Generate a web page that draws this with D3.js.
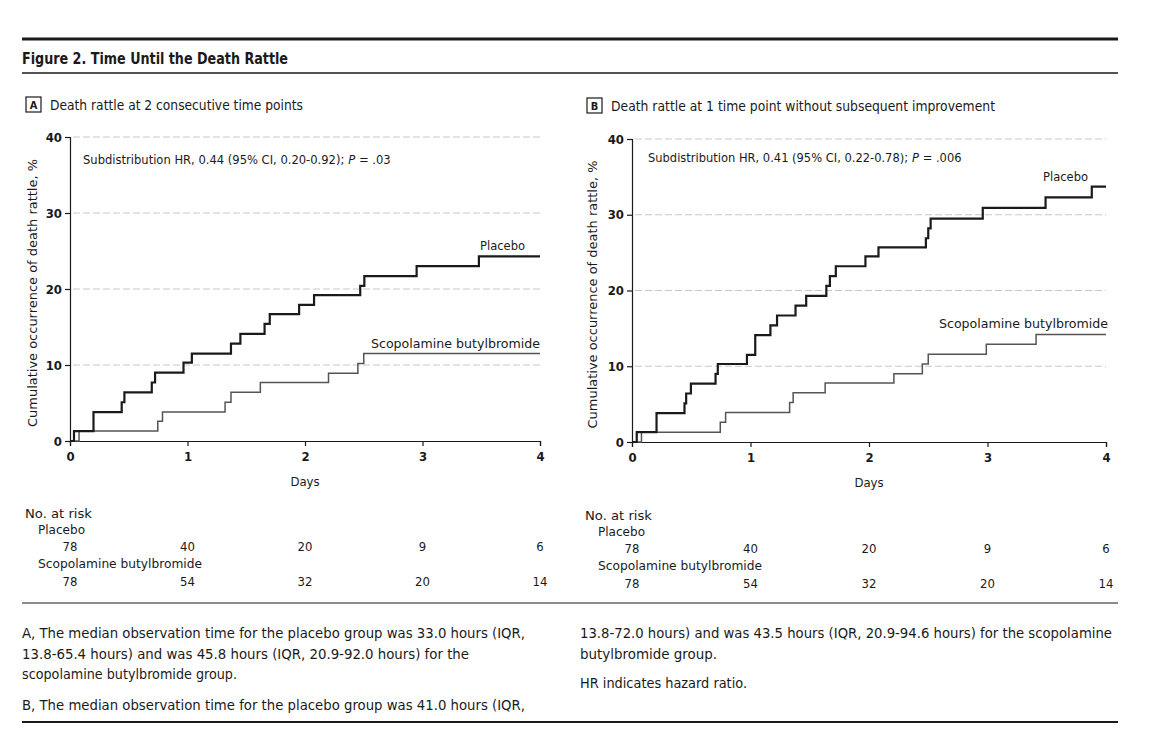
<!DOCTYPE html>
<html>
<head>
<meta charset="utf-8">
<script src="https://cdn.jsdelivr.net/npm/d3@7"></script>
<style>
  body { margin: 0; background: #fff; }
  svg text { font-family: "Liberation Sans Narrow", "DejaVu Sans Condensed", "Open Sans", sans-serif; fill: #1a1a1a; }
</style>
</head>
<body>
<svg id="chart" width="1170" height="732"></svg>
<script>
// ---------------- DATA ----------------
const dayTicks = [0, 1, 2, 3, 4];
const pctTicks = [0, 10, 20, 30, 40];
const gridTicks = [10, 20, 30, 40];

// Panel A: death rattle at 2 consecutive time points
const placeboA_days = [0, 0.034, 0.20, 0.44, 0.463, 0.696, 0.724, 0.966, 1.037, 1.37, 1.45, 1.656, 1.70, 1.95, 2.077, 2.47, 2.505, 2.95, 3.48, 4.0];
const placeboA_pct  = [0, 1.3, 3.8, 5.1, 6.4, 7.7, 9.0, 10.3, 11.5, 12.8, 14.1, 15.4, 16.7, 17.9, 19.2, 20.4, 21.7, 23.0, 24.3, 24.3];
const scopA_days = [0, 0.077, 0.747, 0.787, 1.32, 1.37, 1.62, 2.20, 2.45, 2.50, 4.0];
const scopA_pct  = [0, 1.3, 2.6, 3.8, 5.1, 6.4, 7.7, 8.9, 10.2, 11.5, 11.5];

// Panel B: death rattle at 1 time point without subsequent improvement
const placeboB_days = [0, 0.04, 0.207, 0.443, 0.457, 0.497, 0.705, 0.724, 0.97, 1.04, 1.168, 1.224, 1.38, 1.47, 1.64, 1.67, 1.72, 1.97, 2.08, 2.48, 2.50, 2.52, 2.96, 3.49, 3.88, 4.0];
const placeboB_pct  = [0, 1.3, 3.8, 5.1, 6.4, 7.7, 9.0, 10.3, 11.5, 14.1, 15.4, 16.7, 18.0, 19.3, 20.6, 21.9, 23.2, 24.5, 25.7, 26.9, 28.2, 29.5, 30.9, 32.3, 33.7, 33.7];
const scopB_days = [0, 0.08, 0.745, 0.79, 1.33, 1.36, 1.63, 2.21, 2.45, 2.50, 2.99, 3.41, 4.0];
const scopB_pct  = [0, 1.3, 2.6, 3.9, 5.2, 6.5, 7.8, 9.0, 10.3, 11.6, 12.9, 14.2, 14.2];

// Numbers at risk
const riskPlaceboA = [78, 40, 20, 9, 6];
const riskScopA    = [78, 54, 32, 20, 14];
const riskPlaceboB = [78, 40, 20, 9, 6];
const riskScopB    = [78, 54, 32, 20, 14];

const groupNames = ["Placebo", "Scopolamine butylbromide"];
const hrA = ["Subdistribution HR, 0.44 (95% CI, 0.20-0.92);", "P", "= .03"];
const hrB = ["Subdistribution HR, 0.41 (95% CI, 0.22-0.78);", "P", "= .006"];

// ---------------- DRAW ----------------
const svg = d3.select("#chart");
const ink = "#1a1a1a";
const FONT = '"Liberation Sans Narrow", "DejaVu Sans Condensed", "Open Sans", sans-serif';

function rule(y, w) {
  svg.append("line").attr("x1", 22).attr("x2", 1118).attr("y1", y).attr("y2", y)
    .attr("stroke", ink).attr("stroke-width", w);
}
rule(39, 3);
rule(73, 1.4);
rule(603, 1.2);
rule(722, 2);

function txt(x, y, s, opts = {}) {
  const t = svg.append("text").attr("x", x).attr("y", y).text(s)
    .attr("font-size", opts.size || 13)
    .attr("font-weight", opts.weight || 400)
    .attr("text-anchor", opts.anchor || "start");
  if (opts.italic) t.attr("font-style", "italic");
  if (opts.len) t.attr("textLength", opts.len).attr("lengthAdjust", "spacingAndGlyphs");
  return t;
}

txt(22, 64, "Figure 2. Time Until the Death Rattle", { size: 16, weight: 600, len: 266 });

function panelHeader(x, y, letter, title, len) {
  svg.append("rect").attr("x", x).attr("y", y - 13).attr("width", 15).attr("height", 15)
    .attr("fill", "none").attr("stroke", ink).attr("stroke-width", 1.2);
  txt(x + 7.5, y - 1, letter, { size: 11, weight: 700, anchor: "middle" });
  txt(x + 24, y, title, { size: 14, len: len });
}
panelHeader(26, 110, "A", "Death rattle at 2 consecutive time points", 253);
panelHeader(587, 111, "B", "Death rattle at 1 time point without subsequent improvement", 384);

// Run of text pieces placed one after another, scaled to a target width
function textRun(x, y, parts, targetW) {
  let size = 13;
  const make = (sz) => {
    const nodes = [];
    let cx = x;
    parts.forEach((p, i) => {
      const t = txt(cx, y, p, { size: sz, italic: i === 1 });
      const w = t.node().getComputedTextLength();
      nodes.push(t);
      cx += w + sz * 0.3;
    });
    return { nodes, w: cx - x - sz * 0.3 };
  };
  let r = make(size);
  const scaled = size * targetW / r.w;
  r.nodes.forEach(n => n.remove());
  make(Math.min(14, Math.max(11, scaled)));
}

function panel(cfg) {
  const x = d3.scaleLinear().domain([0, 4]).range([cfg.x0, cfg.x1]);
  const y = d3.scaleLinear().domain([0, 40]).range([cfg.y0, cfg.y1]);
  const g = svg.append("g");

  // gridlines
  g.selectAll(".grid").data(gridTicks).join("line")
    .attr("x1", x(0) + 3).attr("x2", x(4)).attr("y1", d => y(d)).attr("y2", d => y(d))
    .attr("stroke", "#c8c8c8").attr("stroke-width", 1).attr("stroke-dasharray", "7,3");

  // axes
  const yAxis = g.append("g").attr("transform", `translate(${x(0)},0)`)
    .call(d3.axisLeft(y).tickValues(pctTicks).tickFormat(d3.format("d")).tickSize(5).tickPadding(3));
  const xAxis = g.append("g").attr("transform", `translate(0,${y(0)})`)
    .call(d3.axisBottom(x).tickValues(dayTicks).tickFormat(d3.format("d")).tickSize(5).tickPadding(6));
  [yAxis, xAxis].forEach(a => {
    a.select(".domain").attr("stroke", ink).attr("stroke-width", 1.2);
    a.selectAll(".tick line").attr("stroke", ink).attr("stroke-width", 1.2);
    a.selectAll(".tick text").attr("font-size", 13).attr("font-weight", 600).attr("fill", ink)
      .style("font-family", FONT);
  });

  // axis titles
  txt((x(0) + x(4)) / 2, y(0) + 45, "Days", { size: 13, anchor: "middle" });
  txt(0, 0, "Cumulative occurrence of death rattle, %", { size: 13, anchor: "middle", len: 268 })
    .attr("transform", `translate(${cfg.yLabX},${(y(0) + y(40)) / 2 + 4}) rotate(-90)`);

  // curves
  const line = d3.line().x(d => x(d[0])).y(d => y(d[1])).curve(d3.curveStepAfter);
  g.append("path").datum(d3.zip(cfg.scopDays, cfg.scopPct)).attr("d", line)
    .attr("fill", "none").attr("stroke", "#555").attr("stroke-width", 1.5);
  g.append("path").datum(d3.zip(cfg.plDays, cfg.plPct)).attr("d", line)
    .attr("fill", "none").attr("stroke", ink).attr("stroke-width", 2.2);

  // HR annotation
  textRun(x(0) + cfg.hrDx, y(40) + cfg.hrDy, cfg.hr, cfg.hrLen);

  // curve labels
  const plEnd = cfg.plPct[cfg.plPct.length - 1];
  const scEnd = cfg.scopPct[cfg.scopPct.length - 1];
  txt(cfg.plLabX, y(plEnd) - 6, groupNames[0], { size: 13, anchor: "end", len: 45 });
  txt(cfg.scLabX, y(scEnd) - 6, groupNames[1], { size: 13, anchor: "end", len: 169 });

  // numbers at risk
  const rx = cfg.riskX, ry = cfg.riskY;
  txt(rx, ry, "No. at risk", { size: 13, len: 67 });
  txt(rx + 13, ry + 16, groupNames[0], { size: 13, len: 47 });
  g.selectAll(".rp").data(cfg.riskPl).join("text")
    .attr("x", (d, i) => x(dayTicks[i])).attr("y", ry + 33).attr("text-anchor", "middle")
    .attr("font-size", 13).attr("fill", ink).text(d => d);
  txt(rx + 13, ry + 50, groupNames[1], { size: 13, len: 164 });
  g.selectAll(".rs").data(cfg.riskSc).join("text")
    .attr("x", (d, i) => x(dayTicks[i])).attr("y", ry + 68).attr("text-anchor", "middle")
    .attr("font-size", 13).attr("fill", ink).text(d => d);
}

panel({
  x0: 70, x1: 540, y0: 441, y1: 137, yLabX: 37,
  plDays: placeboA_days, plPct: placeboA_pct, scopDays: scopA_days, scopPct: scopA_pct,
  hr: hrA, hrDx: 13, hrDy: 27, hrLen: 308,
  plLabX: 525, scLabX: 540,
  riskX: 25, riskY: 518, riskPl: riskPlaceboA, riskSc: riskScopA
});
panel({
  x0: 632, x1: 1106, y0: 442, y1: 139, yLabX: 597,
  plDays: placeboB_days, plPct: placeboB_pct, scopDays: scopB_days, scopPct: scopB_pct,
  hr: hrB, hrDx: 16, hrDy: 23, hrLen: 314,
  plLabX: 1088, scLabX: 1108,
  riskX: 585, riskY: 520, riskPl: riskPlaceboB, riskSc: riskScopB
});

// footnotes
const footLeft = [
  ["A, The median observation time for the placebo group was 33.0 hours (IQR,", 503],
  ["13.8-65.4 hours) and was 45.8 hours (IQR, 20.9-92.0 hours) for the", 447],
  ["scopolamine butylbromide group.", 215],
  ["B, The median observation time for the placebo group was 41.0 hours (IQR,", 503]
];
const footLeftY = [638, 659, 679, 710];
const footRight = [
  ["13.8-72.0 hours) and was 43.5 hours (IQR, 20.9-94.6 hours) for the scopolamine", 532],
  ["butylbromide group.", 137],
  ["HR indicates hazard ratio.", 167]
];
const footRightY = [638, 659, 688];
footLeft.forEach((d, i) => txt(22, footLeftY[i], d[0], { size: 14.5, len: d[1] }));
footRight.forEach((d, i) => txt(580, footRightY[i], d[0], { size: 14.5, len: d[1] }));
</script>
</body>
</html>
